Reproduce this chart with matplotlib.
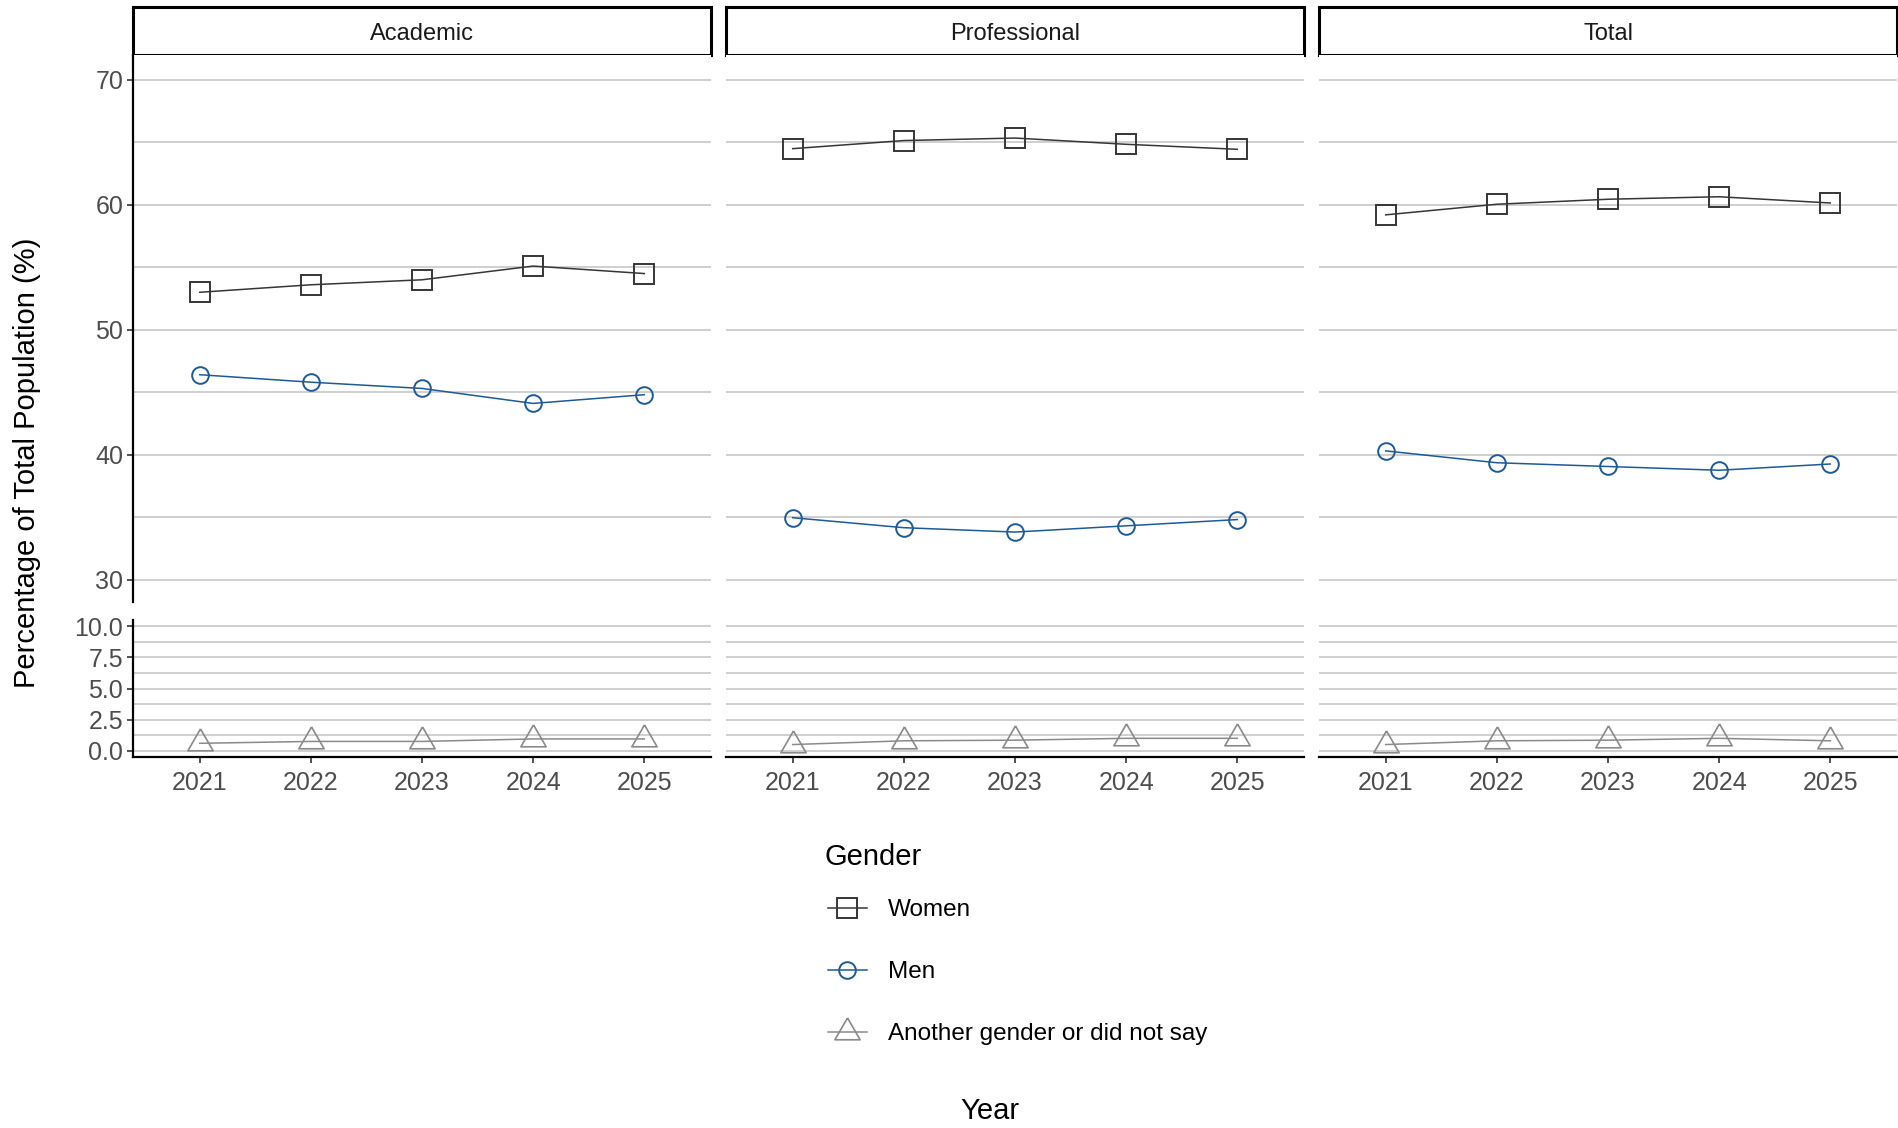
import matplotlib
matplotlib.use("Agg")
import matplotlib.pyplot as plt
from matplotlib.lines import Line2D

plt.rcParams['font.family'] = ['Liberation Sans', 'DejaVu Sans']

# ==========================
# Data
# ==========================
years = [2021, 2022, 2023, 2024, 2025]
panels = ["Academic", "Professional", "Total"]
genders = ["Women", "Men", "Another gender or did not say"]

women_academic = [53.0, 53.6, 54.0, 55.1, 54.5]
men_academic = [46.4, 45.8, 45.3, 44.1, 44.8]
other_academic = [0.6, 0.75, 0.75, 0.95, 0.95]

women_professional = [64.5, 65.15, 65.35, 64.85, 64.45]
men_professional = [34.95, 34.15, 33.8, 34.3, 34.8]
other_professional = [0.5, 0.8, 0.85, 1.0, 1.0]

women_total = [59.2, 60.05, 60.45, 60.65, 60.15]
men_total = [40.3, 39.35, 39.05, 38.75, 39.25]
other_total = [0.5, 0.8, 0.85, 1.0, 0.8]

women = [women_academic, women_professional, women_total]
men = [men_academic, men_professional, men_total]
other = [other_academic, other_professional, other_total]

upper_ticks = [30, 40, 50, 60, 70]
upper_minor = [35, 45, 55, 65]
lower_ticks = [0.0, 2.5, 5.0, 7.5, 10.0]
lower_minor = [1.25, 3.75, 6.25, 8.75]

# ==========================
# Styles
# ==========================
W, H = 1899, 1128
col_women = "#363636"
col_men = "#1d5a96"
col_other = "#8a8a8a"
grid_col = "#cfcfcf"
tick_col = "#4d4d4d"
# triangle centred on its centroid (like R's pch 2)
tri = [(0, 1), (-0.866, -0.5), (0.866, -0.5), (0, 1)]

st_women = dict(color=col_women, marker='s', markersize=14.5, mfc='none', mec=col_women, mew=1.4)
st_men = dict(color=col_men, marker='o', markersize=12, mfc='none', mec=col_men, mew=1.4)
st_other = dict(color=col_other, marker=tri, markersize=21, mfc='none', mec=col_other, mew=1.2)
styles = [st_women, st_men, st_other]


def box(x0, y0, x1, y1):
    # pixel box (top-left origin) -> figure fraction
    return [x0 / W, 1 - y1 / H, (x1 - x0) / W, (y1 - y0) / H]


fig = plt.figure(figsize=(W / 100, H / 100), dpi=100)

panel_left = [133, 726, 1319]
panel_w = 578
strip_y = (7, 55)
upper_y = (55, 602)
lower_y = (620, 757)

for i, name in enumerate(panels):
    x0 = panel_left[i]
    x1 = x0 + panel_w

    # strip
    sax = fig.add_axes(box(x0, strip_y[0], x1, strip_y[1]))
    sax.set_xticks([])
    sax.set_yticks([])
    for sp in sax.spines.values():
        sp.set_linewidth(2.2)
        sp.set_color("black")
    sax.text(0.5, 0.44, name, ha='center', va='center', fontsize=17, color="#1a1a1a",
             transform=sax.transAxes)

    ax_up = fig.add_axes(box(x0, upper_y[0], x1, upper_y[1]))
    ax_lo = fig.add_axes(box(x0, lower_y[0], x1, lower_y[1]))

    # broken y axis: Women/Men above the break, the small group below it
    ax_up.plot(years, women[i], lw=1.1, **st_women)
    ax_up.plot(years, men[i], lw=1.1, **st_men)
    ax_lo.plot(years, other[i], lw=1.1, clip_on=False, **st_other)

    for ax in (ax_up, ax_lo):
        ax.set_xlim(2020.4, 2025.6)
        ax.set_axisbelow(True)
        ax.grid(True, axis='y', which='both', color=grid_col, lw=1.4)
        ax.grid(False, axis='x')
        for sp in ax.spines.values():
            sp.set_visible(False)

    ax_up.set_ylim(28.2, 72.0)
    ax_up.set_yticks(upper_ticks)
    ax_up.set_yticks(upper_minor, minor=True)
    ax_up.set_xticks([])

    ax_lo.set_ylim(-0.5, 10.5)
    ax_lo.set_yticks(lower_ticks)
    ax_lo.set_yticks(lower_minor, minor=True)
    ax_lo.set_yticklabels(["0.0", "2.5", "5.0", "7.5", "10.0"])
    ax_lo.set_xticks(years)
    ax_lo.set_xticklabels([str(y) for y in years])
    ax_lo.spines['bottom'].set_visible(True)
    ax_lo.spines['bottom'].set_linewidth(1.6)
    ax_lo.tick_params(axis='x', length=4, width=1.2, color="#333333", pad=6,
                      labelsize=18, labelcolor=tick_col)

    for ax in (ax_up, ax_lo):
        ax.tick_params(axis='y', which='minor', length=0)
        if i == 0:
            ax.spines['left'].set_visible(True)
            ax.spines['left'].set_linewidth(1.6)
            ax.tick_params(axis='y', which='major', length=4, width=1.2, color="#333333",
                           pad=3, labelsize=18, labelcolor=tick_col)
        else:
            ax.tick_params(axis='y', which='major', length=0, labelleft=False)

# axis titles
fig.text(27 / W, 1 - 463 / H, "Percentage of Total Population (%)", rotation=90,
         ha='center', va='center', fontsize=21, color="black")
fig.text(990 / W, 1 - 1111 / H, "Year", ha='center', va='center', fontsize=21, color="black")

# legend (title placed separately so the rows can sit closer to it)
fig.text(825 / W, 1 - 857 / H, "Gender", ha='left', va='center', fontsize=21, color="black")
handles = [Line2D([0], [0], lw=1.1, **st) for st in styles]
fig.legend(handles, genders, loc='upper left',
           bbox_to_anchor=(828 / W, 1 - 899 / H), frameon=False,
           fontsize=17.5, handlelength=1.6, handletextpad=0.85, labelspacing=1.65,
           borderpad=0, borderaxespad=0)

fig.savefig("out.png", dpi=100)
